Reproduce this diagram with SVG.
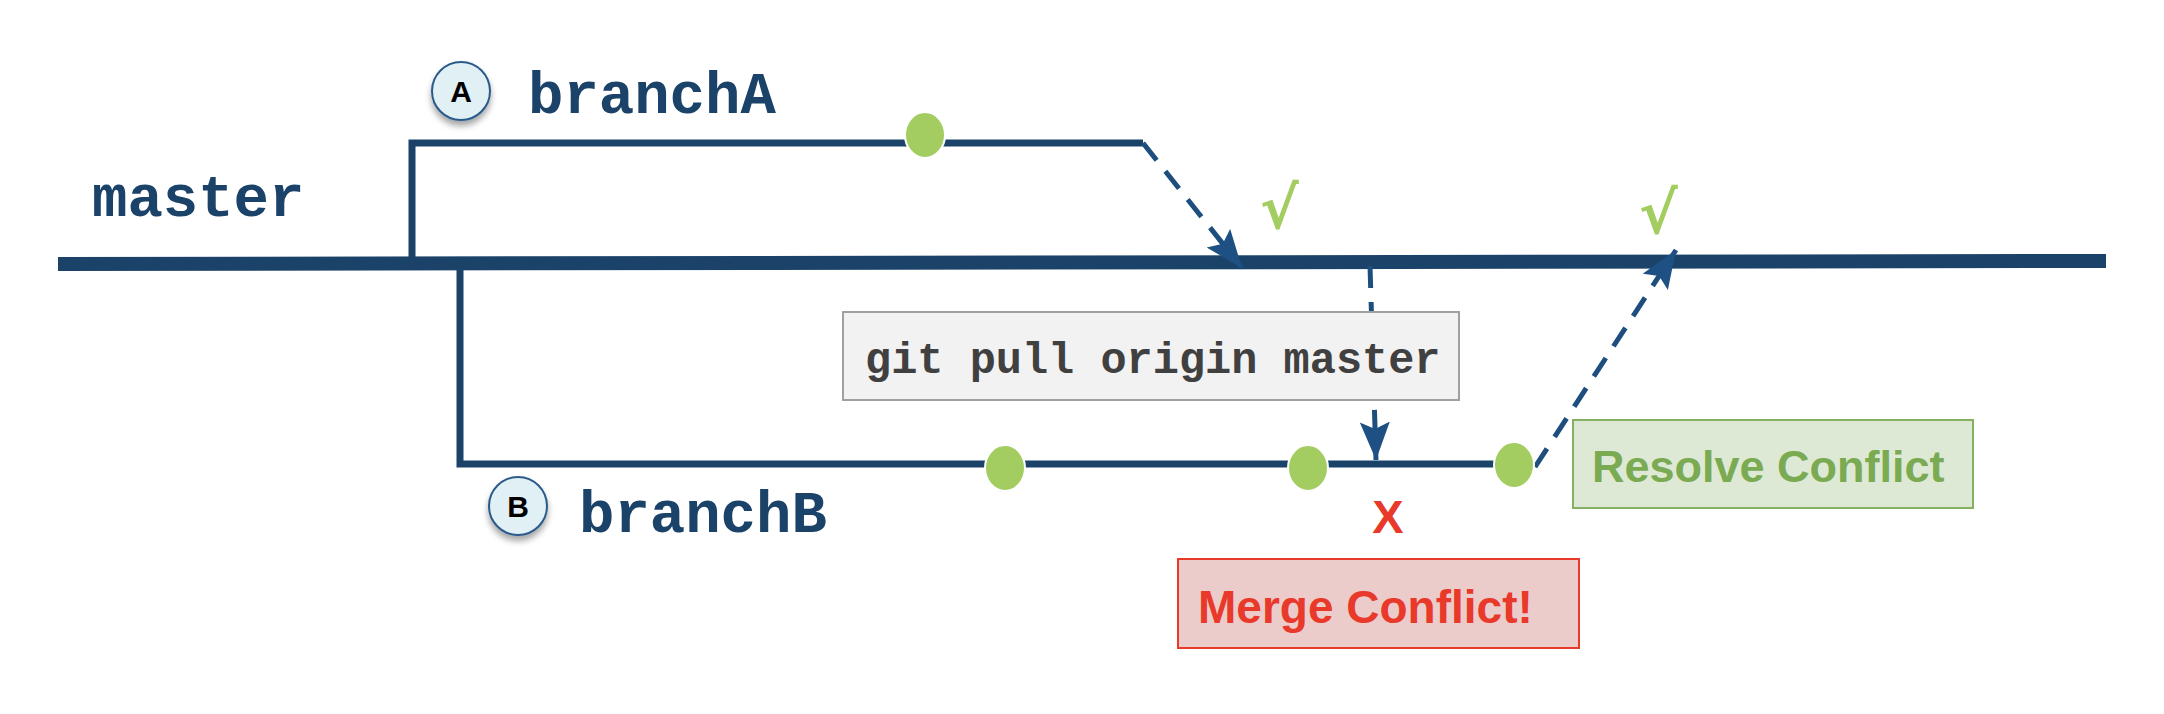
<svg xmlns="http://www.w3.org/2000/svg" width="2164" height="714" viewBox="0 0 2164 714">
<style>
.mono{font-family:"Liberation Mono","Courier New",monospace;font-weight:bold;}
.sans{font-family:"Liberation Sans",Arial,sans-serif;font-weight:bold;}
.branch{fill:none;stroke:#1b4268;stroke-width:7;stroke-linejoin:miter;}
.commit{fill:#a3cd60;stroke:#ffffff;stroke-width:2;}
.flow{fill:none;stroke:#1d4e7e;stroke-width:5;stroke-dasharray:22 14;}
.badge{fill:#e1f0f5;stroke:#2a5a8a;stroke-width:2;}
.check{font-family:"DejaVu Sans","Liberation Sans",sans-serif;font-weight:bold;fill:#a3cd60;font-size:58px;}
</style>
<defs>
<marker id="arrow" markerUnits="userSpaceOnUse" markerWidth="42" markerHeight="32" refX="38" refY="15" orient="auto">
<path d="M0,0 L38,15 L0,30 L7,15 Z" fill="#1f5083"/>
</marker>
<filter id="shadow" x="-50%" y="-50%" width="200%" height="200%">
<feDropShadow dx="0" dy="5" stdDeviation="3" flood-color="#000" flood-opacity="0.35"/>
</filter>
</defs>

<g id="master">
<line x1="58" y1="264" x2="2106" y2="261" stroke="#1b4268" stroke-width="14"/>
<text class="mono" x="92" y="216" font-size="59" fill="#1b4268">master</text>
</g>

<g id="branchA">
<polyline class="branch" points="412,262 412,143 1143,143"/>
<circle class="badge" cx="461" cy="91" r="29" filter="url(#shadow)"/>
<text class="sans" x="461" y="102" font-size="30" text-anchor="middle" fill="#000">A</text>
<text class="mono" x="528" y="113" font-size="59" fill="#1b4268">branchA</text>
</g>

<g id="branchB">
<polyline class="branch" points="460,262 460,464 1496,464"/>
<circle class="badge" cx="518" cy="506" r="29" filter="url(#shadow)"/>
<text class="sans" x="518" y="517" font-size="30" text-anchor="middle" fill="#000">B</text>
<text class="mono" x="579" y="532" font-size="59" fill="#1b4268">branchB</text>
</g>

<g id="connectors">
<line class="flow" x1="1143" y1="143" x2="1242" y2="268" marker-end="url(#arrow)"/>
<line class="flow" x1="1370" y1="266" x2="1376" y2="460" marker-end="url(#arrow)"/>
<line class="flow" x1="1535" y1="467" x2="1676" y2="250" marker-end="url(#arrow)"/>
</g>

<g id="commitA1"><ellipse class="commit" cx="925" cy="135" rx="20" ry="23"/></g>
<g id="commitB1"><ellipse class="commit" cx="1005" cy="468" rx="20" ry="23"/></g>
<g id="commitB2"><ellipse class="commit" cx="1308" cy="468" rx="20" ry="23"/></g>
<g id="commitB3"><ellipse class="commit" cx="1514" cy="465" rx="20" ry="23"/></g>

<g id="check1"><text class="check" x="1260" y="228">√</text></g>
<g id="check2"><text class="check" x="1639" y="233">√</text></g>

<g id="gitpull">
<rect x="843" y="312" width="616" height="88" fill="#f2f2f2" stroke="#a0a0a0" stroke-width="2"/>
<text class="mono" x="865" y="373" font-size="43.6" fill="#404040">git pull origin master</text>
</g>

<g id="x-mark">
<text class="sans" x="1388" y="533" font-size="47" text-anchor="middle" fill="#e8392a">X</text>
</g>

<g id="merge-conflict">
<rect x="1178" y="559" width="401" height="89" fill="#ecccca" stroke="#e8392a" stroke-width="2"/>
<text class="sans" x="1198" y="623" font-size="46" fill="#e8392a">Merge Conflict!</text>
</g>

<g id="resolve-conflict">
<rect x="1573" y="420" width="400" height="88" fill="#dde9d5" stroke="#84b062" stroke-width="2"/>
<text class="sans" x="1592" y="482" font-size="45" fill="#7aaa52">Resolve Conflict</text>
</g>
</svg>
